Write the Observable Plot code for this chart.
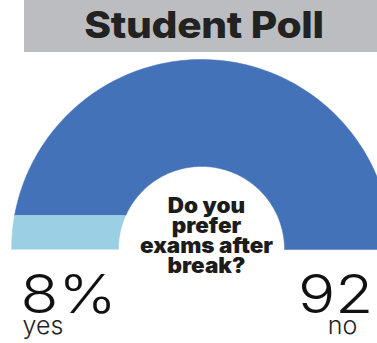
<!DOCTYPE html>
<html><head><meta charset="utf-8">
<script src="https://cdn.jsdelivr.net/npm/d3@7"></script>
<script src="https://cdn.jsdelivr.net/npm/@observablehq/plot@0.6"></script>
<style>
html,body{margin:0;padding:0;background:#fff;overflow:hidden;width:377px;height:343px;}
#title{position:absolute;left:24px;top:0;width:353px;height:52px;background:#bcbdc0;overflow:hidden;}
#title span{position:absolute;left:179.5px;top:6px;white-space:nowrap;font-family:Inter,"Liberation Sans",sans-serif;font-weight:800;font-size:37px;line-height:37px;color:#222;transform:translateX(-50%) scaleX(1.1);letter-spacing:-0.3px;}
#chart{position:absolute;left:0;top:52px;}
</style></head><body>
<div id="title"><span></span></div>
<div id="chart"></div>
<script>
// ---- data ----
const titleText = "Student Poll";
const question = "Do you\nprefer\nexams after\nbreak?";
const answers = ["yes", "no"];
const shares = [8, 92];
const colors = ["#9bd0e4", "#4472b9"];

document.querySelector("#title span").textContent = titleText;

// ---- geometry derived from the values ----
const k = 0.437; // inner radius / outer radius
const F = (y, a) => (y * Math.sqrt(Math.max(0, a * a - y * y)) + a * a * Math.asin(Math.min(1, y / a))) / 2;
const strip = h => F(h, 1) - F(h, k);
const half = Math.PI / 2 * (1 - k * k);
const frac = shares[0] / d3.sum(shares);
let lo = 0, hi = k;
for (let i = 0; i < 60; ++i) { const m = (lo + hi) / 2; if (strip(m) / half < frac) lo = m; else hi = m; }
const h = (lo + hi) / 2;
const aOut = Math.PI - Math.asin(h), aIn = Math.PI - Math.asin(h / k);
const arc = (r, a0, a1, n = 120) => d3.range(n + 1).map(i => { const a = a0 + (a1 - a0) * i / n; return {x: r * Math.cos(a), y: r * Math.sin(a)}; });
const yesPts = [...arc(1, Math.PI, aOut), ...arc(k, aIn, Math.PI)];
const noPts = [...arc(1, aOut, 0), ...arc(k, 0, aIn)];

const slices = answers.map((a, i) => ({answer: a, share: shares[i], pct: `${shares[i]}%`}));
const yesX = -1, noX = (1 + k) / 2;

const font = "Inter, 'Liberation Sans', sans-serif";
const plot = Plot.plot({
  width: 377, height: 291,
  x: {domain: [-1, 1], range: [11, 391], axis: null},
  y: {domain: [0, 1], range: [197, 7], axis: null},
  style: {background: "transparent", fontFamily: font, overflow: "hidden"},
  marks: [
    Plot.line(noPts, {x: "x", y: "y", fill: colors[1], stroke: colors[1], strokeWidth: 0.5, curve: "linear"}),
    Plot.line(yesPts, {x: "x", y: "y", fill: colors[0], stroke: colors[0], strokeWidth: 0.5, curve: "linear"}),
    Plot.text([question], {x: () => 0, y: () => 0, text: d => d, textAnchor: "middle", lineAnchor: "bottom", lineHeight: 0.94, dx: 5, dy: 23, fontSize: 21, fontWeight: 900, fill: "#1c1c1c", ariaDescription: "question"}),
    Plot.text([slices[0]], {x: () => yesX, y: () => 0, text: "pct", textAnchor: "start", lineAnchor: "bottom", dx: 9, dy: 63, fontSize: 53, fontWeight: 300, fill: "#111", ariaDescription: "pct"}),
    Plot.text([slices[1]], {x: () => noX, y: () => 0, text: "pct", textAnchor: "start", lineAnchor: "bottom", dx: -40, dy: 63, fontSize: 53, fontWeight: 300, fill: "#111", ariaDescription: "pct"}),
    Plot.text([slices[0]], {x: () => yesX, y: () => 0, text: "answer", textAnchor: "start", lineAnchor: "bottom", dx: 11, dy: 84, fontSize: 25, fontWeight: 300, fill: "#222"}),
    Plot.text([slices[1]], {x: () => noX, y: () => 0, text: "answer", textAnchor: "middle", lineAnchor: "bottom", dx: 4.5, dy: 84, fontSize: 25, fontWeight: 300, fill: "#222"})
  ]
});

function stretch(sel, s) {
  d3.select(plot).selectAll(sel).each(function () {
    const x = +this.getAttribute("x") || 0, y = +this.getAttribute("y") || 0;
    const t = this.getAttribute("transform") || "";
    this.setAttribute("transform", `${t} translate(${x},${y}) scale(${s},1) translate(${-x},${-y})`);
  });
}
stretch('g[aria-description="pct"] text', 1.17);
stretch('g[aria-description="question"] text', 1.07);
document.getElementById("chart").append(plot);
</script>
</body></html>
